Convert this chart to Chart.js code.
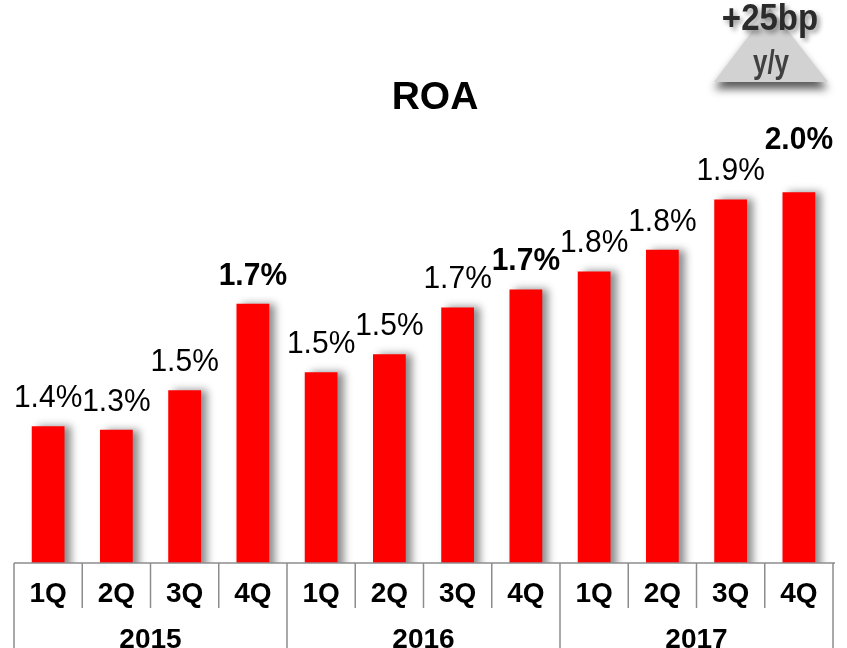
<!DOCTYPE html>
<html><head><meta charset="utf-8">
<script src="https://cdn.jsdelivr.net/npm/chart.js@4/dist/chart.umd.min.js"></script>
<style>html,body{margin:0;padding:0;background:#fff;}canvas{display:block;}</style>
</head><body>
<canvas id="c" width="847" height="648"></canvas>
<script>
const years = ['2015', '2016', '2017'];
const quarters = ['1Q', '2Q', '3Q', '4Q'];
const roaValues = [1.35, 1.34, 1.45, 1.69, 1.50, 1.55, 1.68, 1.73, 1.78, 1.84, 1.98, 2.00];
const roaLabels = ['1.4%', '1.3%', '1.5%', '1.7%', '1.5%', '1.5%', '1.7%', '1.7%', '1.8%', '1.8%', '1.9%', '2.0%'];
const chartTitle = 'ROA';
const badgeMain = '+25bp';
const badgeSub = 'y/y';

const categories = years.flatMap(y => quarters.map(q => q + ' ' + y));
const F = "'Liberation Sans', Arial, sans-serif";

function stretchedText(ctx, text, x, y, sy) {
  ctx.save();
  ctx.translate(x, y);
  ctx.scale(1, sy);
  ctx.fillText(text, 0, 0);
  ctx.restore();
}

const deco = {
  id: 'deco',
  beforeDatasetsDraw(chart) {
    const c = chart.ctx;
    c.save();
    c.shadowColor = 'rgba(0,0,0,0.45)';
    c.shadowBlur = 8;
    c.shadowOffsetX = 6;
    c.shadowOffsetY = 0;
  },
  afterDatasetsDraw(chart) { chart.ctx.restore(); },
  afterDraw(chart) {
    const ctx = chart.ctx, xs = chart.scales.x, area = chart.chartArea;
    const meta = chart.getDatasetMeta(0);
    const nq = quarters.length;
    ctx.save();
    // data labels
    ctx.fillStyle = '#000';
    ctx.textAlign = 'center';
    ctx.textBaseline = 'alphabetic';
    meta.data.forEach((bar, i) => {
      const q4 = i % nq === nq - 1;
      ctx.font = (q4 ? 'bold ' : '') + '30px ' + F;
      const off = i === roaLabels.length - 1 ? 43 : 19;
      stretchedText(ctx, roaLabels[i], bar.x, bar.y - off, 1.04);
    });
    // category axis
    const n = categories.length;
    const step = xs.getPixelForValue(1) - xs.getPixelForValue(0);
    const base = area.bottom;
    ctx.strokeStyle = '#8c8c8c';
    ctx.lineWidth = 1.5;
    ctx.beginPath(); ctx.moveTo(xs.getPixelForValue(0) - step / 2, base); ctx.lineTo(xs.getPixelForValue(n - 1) + step / 2 + 2, base); ctx.stroke();
    for (let i = 0; i <= n; i++) {
      const x = xs.getPixelForValue(Math.min(i, n - 1)) + (i === n ? step / 2 : -step / 2);
      const isYear = i % nq === 0;
      ctx.beginPath(); ctx.moveTo(x, base); ctx.lineTo(x, isYear ? chart.height : base + 45); ctx.stroke();
    }
    ctx.font = 'bold 28px ' + F;
    ctx.fillStyle = '#000';
    for (let i = 0; i < n; i++) {
      ctx.fillText(quarters[i % nq], xs.getPixelForValue(i), base + 39);
    }
    years.forEach((y, k) => {
      const cx = (xs.getPixelForValue(k * nq) + xs.getPixelForValue(k * nq + nq - 1)) / 2;
      ctx.fillText(y, cx, base + 85);
    });
    // title
    ctx.font = 'bold 39px ' + F;
    ctx.fillText(chartTitle, 435, 109);
    // badge
    ctx.save();
    ctx.shadowColor = 'rgba(0,0,0,0.65)';
    ctx.shadowBlur = 8;
    ctx.shadowOffsetY = 7;
    ctx.fillStyle = '#d2d2d2';
    ctx.beginPath(); ctx.moveTo(770, 8); ctx.lineTo(828, 82); ctx.lineTo(714, 82); ctx.closePath(); ctx.fill();
    ctx.restore();
    ctx.save();
    ctx.shadowColor = 'rgba(0,0,0,0.4)';
    ctx.shadowBlur = 5;
    ctx.shadowOffsetX = 3; ctx.shadowOffsetY = 3;
    ctx.fillStyle = '#2b2b2b';
    ctx.font = 'bold 33px ' + F;
    stretchedText(ctx, badgeMain, 770, 30, 1.1);
    ctx.restore();
    ctx.fillStyle = '#404040';
    ctx.font = 'bold 26px ' + F;
    stretchedText(ctx, badgeSub, 771, 73, 1.25);
    ctx.restore();
  }
};

new Chart(document.getElementById('c'), {
  type: 'bar',
  data: {
    labels: categories,
    datasets: [{
      data: roaValues,
      backgroundColor: '#ff0000',
      borderWidth: 0,
      categoryPercentage: 1,
      barPercentage: 0.48
    }]
  },
  options: {
    responsive: false,
    animation: false,
    layout: { padding: { left: 14, right: 14, top: 131, bottom: 85 } },
    plugins: { legend: { display: false }, title: { display: false }, tooltip: { enabled: false } },
    scales: {
      x: { display: false },
      y: { display: false, min: 0.97, max: 2.17 }
    }
  },
  plugins: [deco]
});
</script>
</body></html>
